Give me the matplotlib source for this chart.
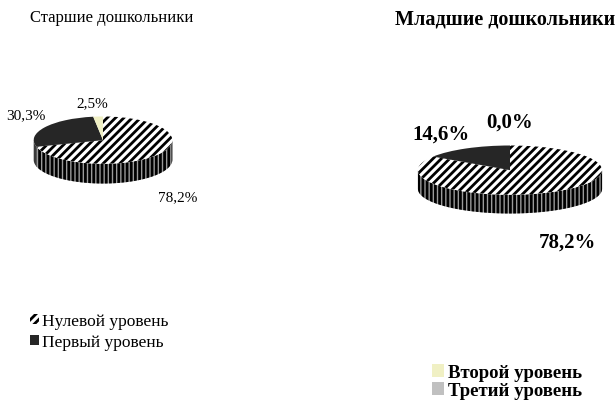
import numpy as np
import matplotlib
matplotlib.use("Agg")
import matplotlib.pyplot as plt
from matplotlib.patches import Polygon

plt.rcParams['font.family'] = ['Liberation Serif', 'DejaVu Serif']
plt.rcParams['hatch.linewidth'] = 2.0

W, H = 616, 402

levels = ["Нулевой уровень", "Первый уровень", "Второй уровень", "Третий уровень"]
old_vals = [78.2, 30.3, 2.5, 0.0]
young_vals = [78.2, 14.6, 0.0, 0.0]
old_labels = ["78,2%", "30,3%", "2,5%"]
young_labels = ["78,2%", "14,6%", "0,0%"]

top_colors = ["white", "#262626", "#f0f0c4", "#c0c0c0"]
side_colors = ["#9a9a9a", "#3a3a3a", "#d8d8a8", "#909090"]
hatches = ["////", None, None, None]
side_hatches = ["||||", None, None, None]

fig = plt.figure(figsize=(W / 100, H / 100), dpi=100)


def px(x, y):
    return x / W, 1 - y / H


def draw_pie(cx, cy, rx, ry, depth, vals):
    ax = fig.add_axes([(cx - rx) / W, 1 - (cy + ry + depth) / H, 2 * rx / W, (2 * ry + depth) / H])
    d = depth / ry
    wedges, _ = ax.pie(vals, colors=top_colors, startangle=90, counterclock=False,
                       wedgeprops=dict(edgecolor="black", linewidth=0))
    for w, h in zip(wedges, hatches):
        if h:
            w.set_hatch(h)
    ax.set_aspect('auto')
    ax.set_xlim(-1.01, 1.01)
    ax.set_ylim(-1.02 - d, 1.02)
    # front side of the disc
    for i, w in enumerate(wedges):
        t1, t2 = w.theta1, w.theta2
        for k in (-1, 0, 1):
            a = max(t1, -180 + 360 * k)
            b = min(t2, 360 * k)
            if b <= a:
                continue
            th = np.radians(np.linspace(a, b, 80))
            top = np.column_stack([np.cos(th), np.sin(th)])
            bot = np.column_stack([np.cos(th[::-1]), np.sin(th[::-1]) - d])
            poly = Polygon(np.vstack([top, bot]), closed=True, facecolor=side_colors[i],
                           edgecolor="black", linewidth=0, hatch=side_hatches[i], zorder=0)
            ax.add_patch(poly)
    return wedges


old_wedges = draw_pie(103, 141, 70, 24, 20, old_vals)
young_wedges = draw_pie(510, 171, 93, 25, 19, young_vals)

fig.text(*px(30, 18), "Старшие дошкольники", fontsize=12, va="center", ha="left")
fig.text(*px(395, 20), "Младшие дошкольники", fontsize=14.5, fontweight="bold", va="center", ha="left")

for (x, y), t in zip([(178, 198), (26, 116), (92, 104)], old_labels):
    fig.text(*px(x, y), t, fontsize=11, ha="center", va="center")
for (x, y), t in zip([(567, 243), (441, 135), (510, 123)], young_labels):
    fig.text(*px(x, y), t, fontsize=15, fontweight="bold", ha="center", va="center")

fig.legend(old_wedges[:2], levels[:2], loc="upper left", bbox_to_anchor=px(30, 314),
           frameon=False, fontsize=12.5, handlelength=0.5, handleheight=0.5,
           handletextpad=0.2, labelspacing=0.3, borderpad=0, borderaxespad=0)
fig.legend(young_wedges[2:], levels[2:], loc="upper left", bbox_to_anchor=px(432, 365),
           frameon=False, fontsize=13.5, prop=dict(weight="bold", size=13.5),
           handlelength=0.65, handleheight=0.65,
           handletextpad=0.2, labelspacing=0.05, borderpad=0, borderaxespad=0)

fig.savefig("out.png", dpi=100)
